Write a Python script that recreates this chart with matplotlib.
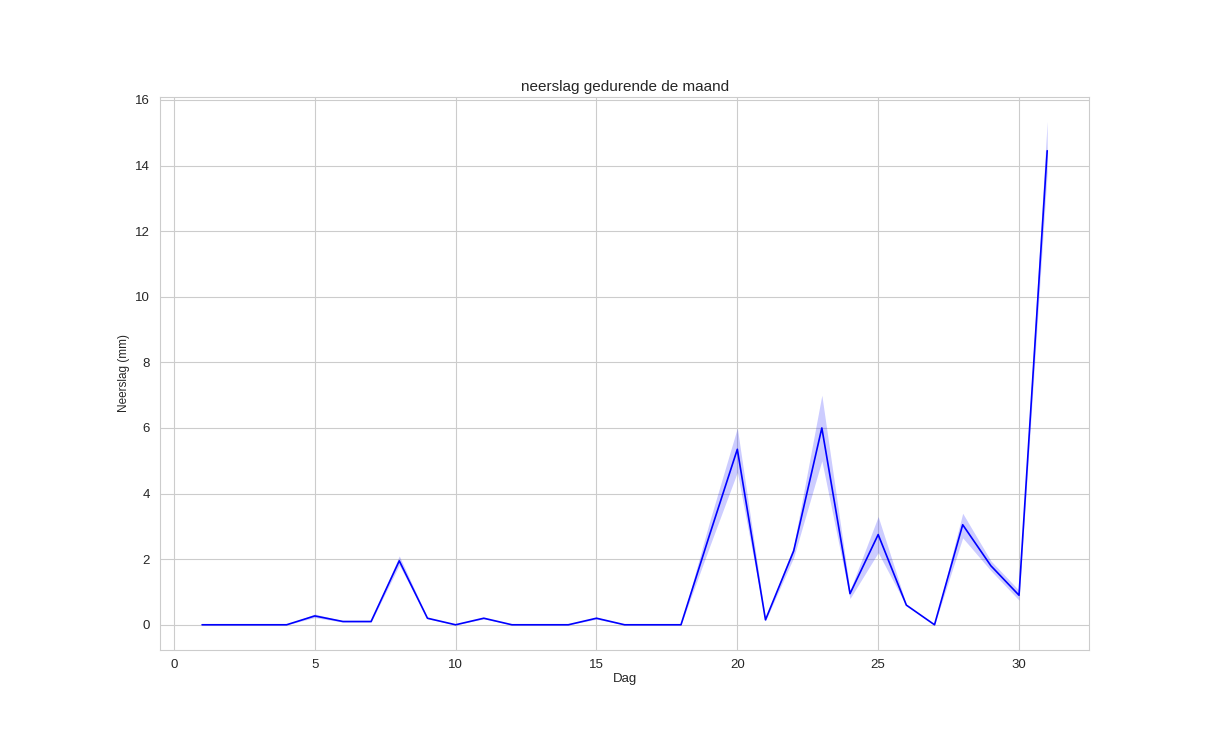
import matplotlib
matplotlib.use("Agg")
import matplotlib.pyplot as plt
import seaborn as sns

days = list(range(1, 32))
rain = [0, 0, 0, 0, 0.27, 0.1, 0.1, 1.95, 0.2, 0, 0.2, 0, 0, 0, 0.2, 0, 0, 0,
        2.7, 5.35, 0.15, 2.25, 6.0, 0.95, 2.75, 0.6, 0, 3.05, 1.8, 0.9, 14.45]
low = [0, 0, 0, 0, 0.22, 0.08, 0.08, 1.82, 0.18, 0, 0.18, 0, 0, 0, 0.17, 0, 0, 0,
       2.35, 4.65, 0.12, 2.05, 5.0, 0.8, 2.2, 0.58, 0, 2.65, 1.65, 0.75, 13.8]
high = [0, 0, 0, 0, 0.33, 0.12, 0.12, 2.1, 0.22, 0, 0.22, 0, 0, 0, 0.23, 0, 0, 0,
        3.1, 6.0, 0.18, 2.4, 7.0, 1.05, 3.3, 0.62, 0, 3.4, 1.95, 1.05, 15.35]

sns.set_style("whitegrid")
plt.rcParams["font.family"] = ["Liberation Sans", "DejaVu Sans"]

fig, ax = plt.subplots(figsize=(12.2, 7.4), dpi=100)
fig.subplots_adjust(left=0.131, right=0.893, top=0.869, bottom=0.122)
ax.fill_between(days, low, high, color="blue", alpha=0.2, linewidth=0)
ax.plot(days, rain, color="blue", linewidth=1.2)
ax.set_xlim(-0.5, 32.5)
ax.set_ylim(-0.76, 16.09)
ax.set_xticks([0, 5, 10, 15, 20, 25, 30])
ax.set_yticks(range(0, 17, 2))
ax.tick_params(labelsize=9.5)
ax.set_title("neerslag gedurende de maand", fontsize=11, pad=4)
ax.set_xlabel("Dag", fontsize=9.5, labelpad=1)
ax.set_ylabel("Neerslag (mm)", fontsize=8.5)
fig.savefig("out.png", dpi=100)
